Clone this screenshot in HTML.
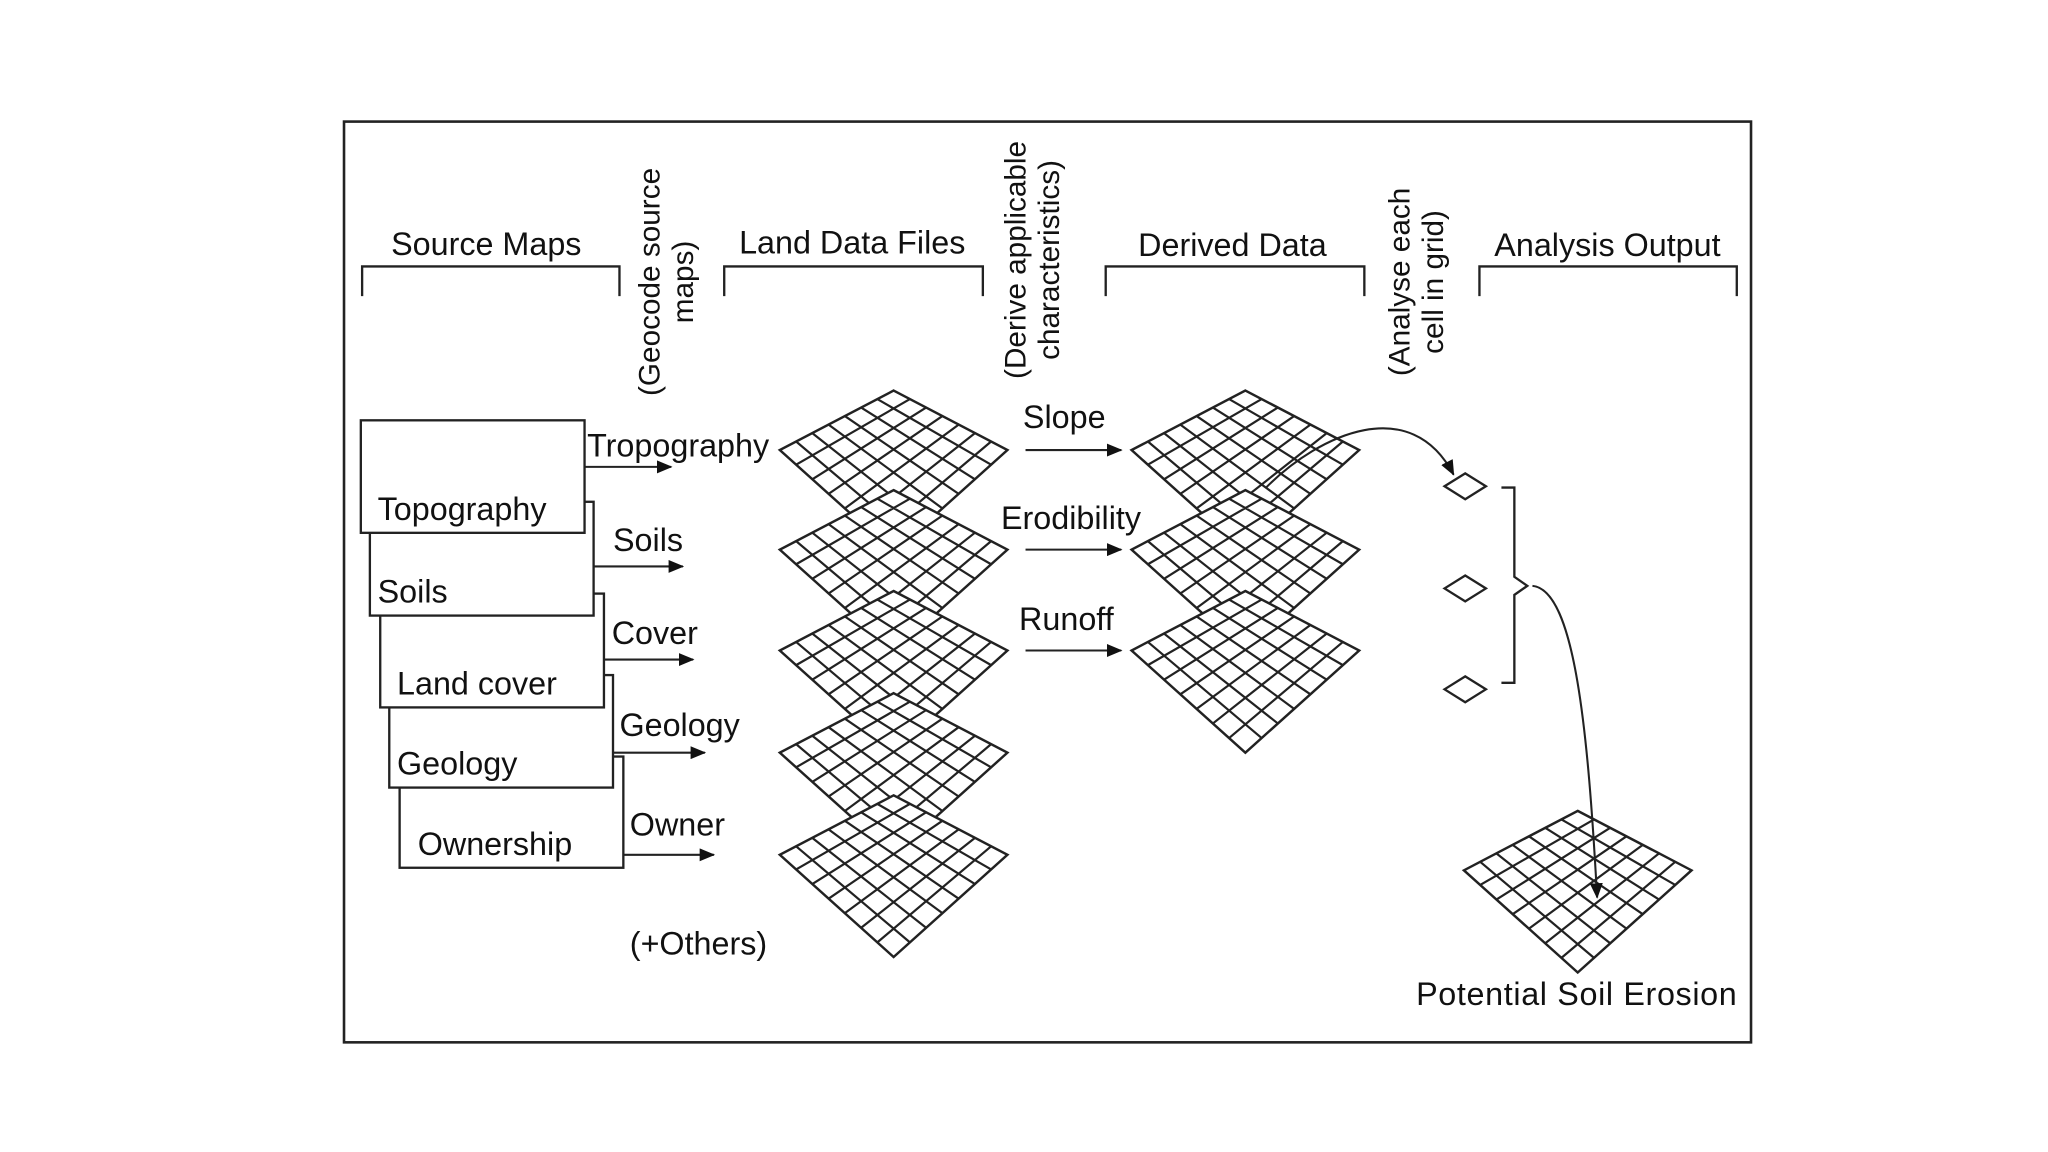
<!DOCTYPE html>
<html><head><meta charset="utf-8"><style>
html,body{margin:0;padding:0;background:#fff;}
svg{display:block;}
text{font-family:"Liberation Sans",sans-serif;font-size:25px;fill:#111;}
.r{font-size:23px;}
</style></head><body>
<svg id="s" width="2048" height="1152" viewBox="0 0 1552 873" xmlns="http://www.w3.org/2000/svg">
<defs><marker id="ah" markerWidth="12" markerHeight="10" refX="11" refY="5" orient="auto" markerUnits="userSpaceOnUse"><path d="M0,0 L12,5 L0,10 z" fill="#111"/></marker></defs>
<g transform="translate(1,1) scale(0.98)">
<rect x="265" y="93" width="1088" height="712" fill="none" stroke="#222" stroke-width="2"/>
<g fill="none" stroke="#222" stroke-width="1.8">
<path d="M279,228 V205 H478 V228"/><path d="M559,228 V205 H759 V228"/>
<path d="M854,228 V205 H1054 V228"/><path d="M1143,228 V205 H1342 V228"/>
</g>
<text x="375" y="196" text-anchor="middle">Source Maps</text>
<text x="658" y="195" text-anchor="middle">Land Data Files</text>
<text x="952" y="197" text-anchor="middle">Derived Data</text>
<text x="1242" y="197" text-anchor="middle">Analysis Output</text>
<text class="r" transform="translate(509,217) rotate(-90)" text-anchor="middle">(Geocode source</text>
<text class="r" transform="translate(535,217) rotate(-90)" text-anchor="middle">maps)</text>
<text class="r" transform="translate(792,200) rotate(-90)" text-anchor="middle">(Derive applicable</text>
<text class="r" transform="translate(818,200) rotate(-90)" text-anchor="middle">characteristics)</text>
<text class="r" transform="translate(1089,217) rotate(-90)" text-anchor="middle">(Analyse each</text>
<text class="r" transform="translate(1115,217) rotate(-90)" text-anchor="middle">cell in grid)</text>
<g fill="#fff" stroke="#222" stroke-width="1.8">
<rect x="308" y="584" width="173" height="86"/>
<rect x="300" y="521" width="173" height="87"/>
<rect x="293" y="458" width="173" height="88"/>
<rect x="285" y="387" width="173" height="88"/>
<rect x="278" y="324" width="173" height="87"/>
</g>
<text x="291" y="401">Topography</text>
<text x="291" y="465">Soils</text>
<text x="306" y="536">Land cover</text>
<text x="306" y="598">Geology</text>
<text x="322" y="660">Ownership</text>
<g stroke="#222" stroke-width="1.6" marker-end="url(#ah)">
<line x1="451" y1="360" x2="518" y2="360"/><line x1="458" y1="437" x2="527" y2="437"/>
<line x1="466" y1="509" x2="535" y2="509"/><line x1="473" y1="581" x2="544" y2="581"/>
<line x1="481" y1="660" x2="551" y2="660"/>
<line x1="792" y1="347" x2="866" y2="347"/><line x1="792" y1="424" x2="866" y2="424"/>
<line x1="792" y1="502" x2="866" y2="502"/>
</g>
<text x="453" y="352">Tropography</text>
<text x="473" y="425">Soils</text>
<text x="472" y="497">Cover</text>
<text x="478" y="568">Geology</text>
<text x="486" y="645">Owner</text>
<text x="486" y="737">(+Others)</text>
<text x="790" y="330">Slope</text>
<text x="773" y="408">Erodibility</text>
<text x="787" y="486">Runoff</text>
<text x="1094" y="776" textLength="248">Potential Soil Erosion</text>
<g id="grids"></g>
<g fill="none" stroke="#222" stroke-width="1.8">
<path d="M1116,375 L1132,365 L1148,375 L1132,385 Z"/>
<path d="M1116,454 L1132,444 L1148,454 L1132,464 Z"/>
<path d="M1116,532 L1132,522 L1148,532 L1132,542 Z"/>
<path d="M1160,376 H1170 V445 L1180,452 L1170,459 V527 H1160"/>
</g>
<g fill="none" stroke="#222" stroke-width="1.6" marker-end="url(#ah)">
<path d="M978,376 C1020,334 1090,303 1123,366"/>
<path d="M1184,452 C1217,455 1227,566 1234,693"/>
</g>
</g>
</svg>
<script>
var g=document.getElementById('grids'),ns='http://www.w3.org/2000/svg';
function grid(cx,cy){
 var T=[cx,cy-46],L=[cx-88,cy],R=[cx+88,cy],B=[cx,cy+79],n=7;
 function P(u,v){
  var x=(1-u)*(1-v)*T[0]+u*(1-v)*R[0]+(1-u)*v*L[0]+u*v*B[0];
  var y=(1-u)*(1-v)*T[1]+u*(1-v)*R[1]+(1-u)*v*L[1]+u*v*B[1];return x.toFixed(1)+','+y.toFixed(1);}
 var p=document.createElementNS(ns,'polygon');
 p.setAttribute('points',P(0,0)+' '+P(1,0)+' '+P(1,1)+' '+P(0,1));
 p.setAttribute('fill','#fff');p.setAttribute('stroke','#222');p.setAttribute('stroke-width','1.9');g.appendChild(p);
 var d='';for(var i=1;i<n;i++){d+='M'+P(i/n,0)+'L'+P(i/n,1)+'M'+P(0,i/n)+'L'+P(1,i/n);}
 var q=document.createElementNS(ns,'path');q.setAttribute('d',d);q.setAttribute('fill','none');
 q.setAttribute('stroke','#222');q.setAttribute('stroke-width','1.7');g.appendChild(q);
}
[347,424,502,581,660].forEach(function(y){grid(690,y);});
[347,424,502].forEach(function(y){grid(962,y);});
grid(1219,672);
</script>
</body></html>
